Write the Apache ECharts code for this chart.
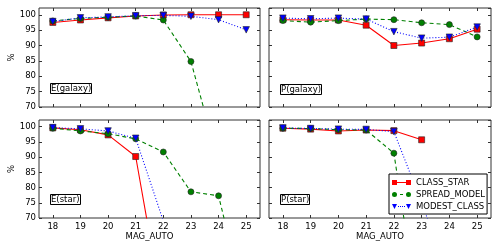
<!DOCTYPE html>
<html><head><meta charset="utf-8">
<script src="https://cdn.jsdelivr.net/npm/echarts@6/dist/echarts.min.js"></script>
<style>html,body{margin:0;padding:0;background:#fff}#c{width:500px;height:250px}</style>
</head><body><div id="c"></div>
<script>
const mags = ['18','19','20','21','22','23','24','25'];
const yMin = 70, yMax = 102.2, yStep = 5;
const seriesNames = ['CLASS_STAR','SPREAD_MODEL','MODEST_CLASS'];
const panelTitles = ['E(galaxy)','P(galaxy)','E(star)','P(star)'];
// E(galaxy)
const eGalClassStar = [97.5,98.3,99.0,99.6,99.9,100,100,100];
const eGalSpread    = [98.0,98.8,99.2,99.6,98.3,84.8,52,null];
const eGalModest    = [97.8,99.0,99.3,99.7,99.8,99.5,98.4,95.1];
// P(galaxy)
const pGalClassStar = [98.4,98.3,98.3,96.6,90.0,90.8,92.2,95.3];
const pGalSpread    = [98.1,97.6,98.1,98.6,98.4,97.4,96.8,92.8];
const pGalModest    = [98.9,98.7,98.9,98.6,94.5,92.4,92.7,96.0];
// E(star)
const eStarClassStar = [99.6,99.0,97.3,90.2,39,null,null,null];
const eStarSpread    = [99.5,98.6,97.7,96.0,91.7,78.6,77.3,40];
const eStarModest    = [99.7,99.3,98.6,96.2,69,null,null,null];
// P(star)
const pStarClassStar = [99.5,99.2,98.6,98.9,98.7,95.7,null,null];
const pStarSpread    = [99.5,99.4,99.0,98.9,91.3,32,null,null];
const pStarModest    = [99.6,99.4,99.2,99.1,98.4,75,50,null];

const panelData = [
  [eGalClassStar, eGalSpread, eGalModest],
  [pGalClassStar, pGalSpread, pGalModest],
  [eStarClassStar, eStarSpread, eStarModest],
  [pStarClassStar, pStarSpread, pStarModest]
];

const FONT = 'DejaVu Sans';
const FS = 8.5;
const frame = '#333';
const grids = [
  {left: 39, top: 8, width: 221, height: 99},
  {left: 269, top: 8, width: 222, height: 99},
  {left: 39, top: 120, width: 221, height: 98},
  {left: 269, top: 120, width: 222, height: 98}
].map(g => Object.assign({show: true, borderColor: frame, borderWidth: 1, backgroundColor: '#fff'}, g));

const styles = [
  {color: '#ff0000', symbol: 'rect', size: 6, rotate: 0, line: 'solid'},
  {color: '#008000', symbol: 'circle', size: 6, rotate: 0, line: [4, 3]},
  {color: '#0000ff', symbol: 'triangle', size: 6.5, rotate: 180, line: [1, 2]}
];

const xAxes = [], yAxes = [], series = [], titles = [];
for (let i = 0; i < 4; i++) {
  const bottomRow = i >= 2, leftCol = i % 2 === 0;
  xAxes.push({
    type: 'category', gridIndex: i, data: mags, position: 'bottom', boundaryGap: true,
    axisLine: {show: false},
    axisTick: {show: true, inside: true, alignWithLabel: true, length: 3, lineStyle: {color: frame}},
    axisLabel: {show: bottomRow, margin: 4, color: '#000', fontFamily: FONT, fontSize: FS},
    name: bottomRow ? 'MAG_AUTO' : '', nameLocation: 'middle', nameGap: 14,
    nameTextStyle: {color: '#000', fontFamily: FONT, fontSize: FS},
    splitLine: {show: false}
  });
  xAxes.push({
    type: 'category', gridIndex: i, data: mags, position: 'top', boundaryGap: true,
    axisLine: {show: false},
    axisTick: {show: true, inside: true, alignWithLabel: true, length: 3, lineStyle: {color: frame}},
    axisLabel: {show: false}, splitLine: {show: false}
  });
  yAxes.push({
    type: 'value', gridIndex: i, min: yMin, max: yMax, interval: yStep, position: 'left',
    axisLine: {show: false},
    axisTick: {show: true, inside: true, length: 3, lineStyle: {color: frame}},
    axisLabel: {show: leftCol, margin: 3, color: '#000', fontFamily: FONT, fontSize: FS,
      showMaxLabel: false, formatter: v => (v % yStep === 0 ? String(v) : '')},
    name: leftCol ? '%' : '', nameLocation: 'middle', nameGap: 22,
    nameTextStyle: {color: '#000', fontFamily: FONT, fontSize: FS},
    splitLine: {show: false}
  });
  yAxes.push({
    type: 'value', gridIndex: i, min: yMin, max: yMax, interval: yStep, position: 'right',
    axisLine: {show: false},
    axisTick: {show: true, inside: true, length: 3, lineStyle: {color: frame}},
    axisLabel: {show: false}, splitLine: {show: false}
  });
  for (let s = 0; s < 3; s++) {
    const st = styles[s];
    series.push({
      type: 'line', name: seriesNames[s], xAxisIndex: 2 * i, yAxisIndex: 2 * i,
      data: panelData[i][s], clip: true, connectNulls: false,
      symbol: st.symbol, symbolSize: st.size, symbolRotate: st.rotate, showAllSymbol: true,
      itemStyle: {color: st.color, borderColor: '#222', borderWidth: 0.6},
      lineStyle: {color: st.color, width: 1.1, type: st.line},
      emphasis: {disabled: true}, animation: false, z: 2 + s
    });
  }
}

const titlePos = [[50, 83], [280, 84], [50, 194], [280, 194]];
for (let i = 0; i < 4; i++) {
  titles.push({
    text: panelTitles[i], left: titlePos[i][0], top: titlePos[i][1],
    padding: [1, 1, 1, 1], borderColor: '#000', borderWidth: 1, backgroundColor: '#fff',
    textStyle: {color: '#000', fontFamily: FONT, fontSize: FS, fontWeight: 'normal'}
  });
}

const legendIcons = [
  'path://M0,0h5v5h-5z M5,2h9v1h-9z M14,0h5v5h-5z',
  'path://M0,2.5a2.5,2.5 0 1,0 5,0a2.5,2.5 0 1,0 -5,0z M8,2h3v1h-3z M14,2.5a2.5,2.5 0 1,0 5,0a2.5,2.5 0 1,0 -5,0z',
  'path://M0,0h5l-2.5,5z M6,2h1v1h-1z M8,2h1v1h-1z M10,2h1v1h-1z M12,2h1v1h-1z M14,0h5l-2.5,5z'
];

const option = {
  animation: false,
  backgroundColor: '#fff',
  title: titles,
  grid: grids,
  xAxis: xAxes,
  yAxis: yAxes,
  legend: {
    left: 389, top: 174, orient: 'vertical',
    data: seriesNames.map((n, k) => ({name: n, icon: legendIcons[k]})),
    itemWidth: 19, itemHeight: 5, itemGap: 3,
    padding: [4, 2, 3, 3], borderColor: '#000', borderWidth: 1, backgroundColor: '#fff',
    itemStyle: {borderWidth: 0}, symbolKeepAspect: false,
    textStyle: {color: '#000', fontFamily: FONT, fontSize: FS},
    selectedMode: false, z: 10
  },
  series: series
};
const chart = echarts.init(document.getElementById('c'), null, {renderer: 'canvas'});
chart.setOption(option);
</script>
</body></html>
